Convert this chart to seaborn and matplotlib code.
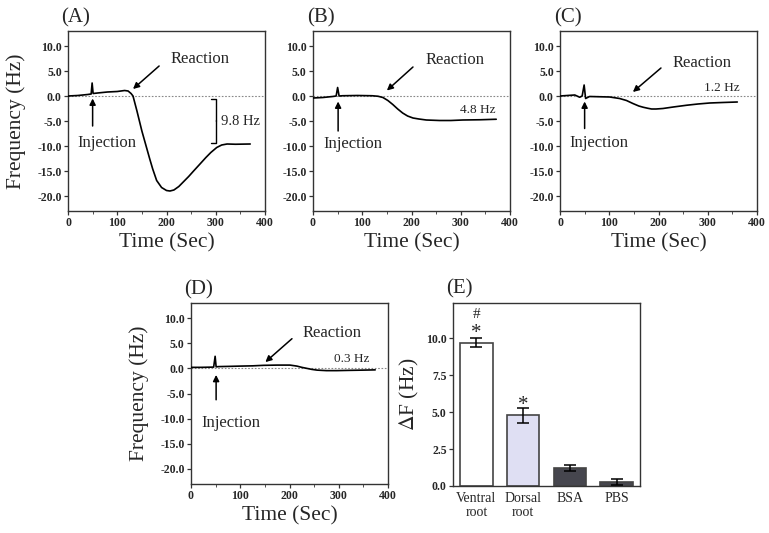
import matplotlib
matplotlib.use('Agg')
import matplotlib.pyplot as plt
import seaborn as sns
import pandas as pd

# ---- traces (time in s, frequency shift in Hz) ----
t_a = [0, 20, 40, 47, 49, 51, 60, 80, 100, 115, 122, 128, 132, 140, 150, 160, 166, 172,
       180, 190, 200, 207, 215, 225, 234, 245, 255, 268, 280, 290, 302, 312, 323, 340, 370]
f_a = [0.0, 0.1, 0.3, 0.4, 2.6, 0.5, 0.6, 0.8, 0.9, 1.1, 1.0, 0.5, 0.0, -3.0, -7.0, -10.5,
       -12.6, -14.6, -16.9, -18.3, -18.9, -19.0, -18.8, -18.1, -17.2, -16.1, -15.0, -13.6,
       -12.3, -11.3, -10.3, -9.8, -9.6, -9.65, -9.6]

t_b = [0, 20, 40, 47, 50, 53, 60, 90, 120, 132, 142, 152, 162, 172, 182, 192, 203, 215,
       230, 257, 280, 304, 340, 372]
f_b = [-0.4, -0.3, -0.1, 0.0, 1.7, 0.0, 0.05, 0.1, 0.05, -0.05, -0.3, -0.9, -1.7, -2.6,
       -3.4, -4.0, -4.4, -4.6, -4.8, -4.9, -4.9, -4.8, -4.75, -4.65]

t_c = [0, 15, 30, 40, 45, 49, 52, 60, 80, 101, 121, 135, 148, 160, 169, 178, 186, 195,
       209, 230, 257, 280, 304, 330, 360]
f_c = [0.0, 0.1, 0.2, -0.25, 0.0, 2.2, -0.5, -0.1, -0.15, -0.2, -0.5, -0.9, -1.5, -2.0,
       -2.25, -2.45, -2.6, -2.6, -2.5, -2.2, -1.85, -1.6, -1.4, -1.3, -1.2]

t_d = [0, 20, 46, 49, 51, 56, 80, 100, 125, 147, 175, 201, 215, 225, 235, 245, 256, 275,
       296, 320, 350, 374]
f_d = [0.2, 0.2, 0.25, 2.4, 0.3, 0.35, 0.4, 0.45, 0.5, 0.6, 0.65, 0.65, 0.45, 0.2, 0.0,
       -0.2, -0.35, -0.45, -0.45, -0.4, -0.35, -0.3]

# ---- panel E ----
groups = ['Ventral\nroot', 'Dorsal\nroot', 'BSA', 'PBS']
delta_f = [9.7, 4.8, 1.2, 0.3]
delta_err = [0.3, 0.5, 0.2, 0.2]
bar_colors = ['#ffffff', '#dcdcf6', '#45454f', '#45454f']

hz_labels = ['9.8 Hz', '4.8 Hz', '1.2 Hz', '0.3 Hz']

sns.set_style('ticks')
plt.rcParams['font.family'] = ['Liberation Serif', 'DejaVu Serif']
plt.rcParams['axes.unicode_minus'] = False
plt.rcParams['mathtext.fontset'] = 'stix'

fig = plt.figure(figsize=(7.69, 5.33), dpi=100)
W, H = 769, 533


def add_ax(x0, y0, x1, y1):
    return fig.add_axes([x0 / W, 1 - y1 / H, (x1 - x0) / W, (y1 - y0) / H])


ax_a = add_ax(68, 31, 265, 211)
ax_b = add_ax(313, 31, 510, 211)
ax_c = add_ax(560, 31, 757, 211)
ax_d = add_ax(191, 303, 388, 484)
ax_e = add_ax(453, 303, 640, 486)

arrow = dict(arrowstyle='-|>', color='black', lw=1.1, mutation_scale=9, shrinkA=0, shrinkB=0)


def style_axes(ax):
    for s in ax.spines.values():
        s.set_color('#333333')
        s.set_linewidth(1.0)
    ax.tick_params(axis='both', direction='out', length=3, width=0.9, color='#333333',
                   labelsize=8.5, pad=1.5)
    for lab in ax.get_xticklabels() + ax.get_yticklabels():
        lab.set_fontweight('bold')


traces = [(ax_a, t_a, f_a, '(A)'), (ax_b, t_b, f_b, '(B)'),
          (ax_c, t_c, f_c, '(C)'), (ax_d, t_d, f_d, '(D)')]

# annotation positions: reaction text, reaction arrow tail/head, injection text, injection arrow tail/head
notes = {
    '(A)': [(268, 7.5), (185, 6.0), (132, 1.4), (78, -9.3), (50, -6.0), (50, -0.5)],
    '(B)': [(289, 7.2), (203, 5.8), (150, 1.1), (80, -9.5), (51, -7.0), (51, -1.1)],
    '(C)': [(288, 6.7), (205, 5.6), (148, 0.8), (78, -9.3), (50, -6.5), (50, -1.1)],
    '(D)': [(287, 7.1), (205, 5.9), (151, 1.25), (80, -10.9), (51, -6.25), (51, -1.3)],
}

for ax, t, f, tag in traces:
    df = pd.DataFrame({'Time': t, 'Freq': f})
    ax.axhline(0, color='#888888', lw=0.8, ls=(0, (1.5, 1.5)), zorder=1)
    sns.lineplot(data=df, x='Time', y='Freq', ax=ax, color='black', lw=1.2,
                 estimator=None, sort=False, zorder=3)
    ax.set_xlim(0, 400)
    ax.set_ylim(-23, 13)
    ax.set_xticks([0, 100, 200, 300, 400])
    ax.set_xticks([50, 150, 250, 350], minor=True)
    ax.set_yticks([10, 5, 0, -5, -10, -15, -20])
    ax.set_yticklabels(['%.1f' % v for v in [10, 5, 0, -5, -10, -15, -20]])
    ax.tick_params(axis='x', which='minor', direction='out', length=2, color='#333333')
    ax.set_xlabel('Time (Sec)', fontsize=15.5, labelpad=3)
    if tag in ('(A)', '(D)'):
        ax.set_ylabel('Frequency (Hz)', fontsize=15.5)
        ax.yaxis.set_label_coords(-0.215, 0.5)
    else:
        ax.set_ylabel('')
    style_axes(ax)
    ax.text(0.04, 1.075, tag, transform=ax.transAxes, ha='center', va='center', fontsize=15)
    rt, rtail, rhead, it, itail, ihead = notes[tag]
    ax.text(rt[0], rt[1], 'Reaction', ha='center', va='center', fontsize=12)
    ax.annotate('', xy=rhead, xytext=rtail, arrowprops=arrow)
    ax.text(it[0], it[1], 'Injection', ha='center', va='center', fontsize=12)
    ax.annotate('', xy=ihead, xytext=itail, arrowprops=arrow)

# amplitude labels; the 9.8 Hz brace is drawn as a bracket annotation
ax_a.annotate(hz_labels[0], xy=(301, -5.0), xytext=(311, -5.0), ha='left', va='center',
              fontsize=10.5,
              arrowprops=dict(arrowstyle='-[, widthB=1.55, lengthB=0.35', lw=1.0,
                              color='black', mutation_scale=10, shrinkA=1, shrinkB=0))
ax_b.text(335, -2.7, hz_labels[1], ha='center', va='center', fontsize=9.5)
ax_c.text(328, 1.7, hz_labels[2], ha='center', va='center', fontsize=9.5)
ax_d.text(327, 1.85, hz_labels[3], ha='center', va='center', fontsize=9.5)

# ---- panel E bars ----
sns.barplot(x=groups, y=delta_f, hue=groups, palette=bar_colors, legend=False,
            edgecolor='#444444', linewidth=1.2, width=0.7, ax=ax_e, zorder=2)
ax_e.errorbar(range(len(groups)), delta_f, yerr=delta_err, fmt='none', ecolor='black',
              elinewidth=1.1, capsize=4, capthick=1.1, zorder=3)
ax_e.set_xlim(-0.5, 3.5)
ax_e.set_ylim(0, 12.4)
ax_e.set_yticks([0, 2.5, 5, 7.5, 10])
ax_e.set_yticklabels(['%.1f' % v for v in [0, 2.5, 5, 7.5, 10]])
ax_e.set_ylabel(r'$\Delta$F (Hz)', fontsize=15.5)
ax_e.yaxis.set_label_coords(-0.17, 0.5)
ax_e.set_xlabel('')
style_axes(ax_e)
ax_e.tick_params(axis='x', length=0, pad=4)
for lab in ax_e.get_xticklabels():
    lab.set_fontweight('normal')
    lab.set_fontsize(10)
    lab.set_linespacing(1.1)
ax_e.text(0, 10.35, '*', ha='center', va='center', fontsize=15)
ax_e.text(0, 11.6, '#', ha='center', va='center', fontsize=11)
ax_e.text(1, 5.45, '*', ha='center', va='center', fontsize=15)
ax_e.text(0.035, 1.075, '(E)', transform=ax_e.transAxes, ha='center', va='center', fontsize=15)

fig.savefig('out.png', dpi=100)
